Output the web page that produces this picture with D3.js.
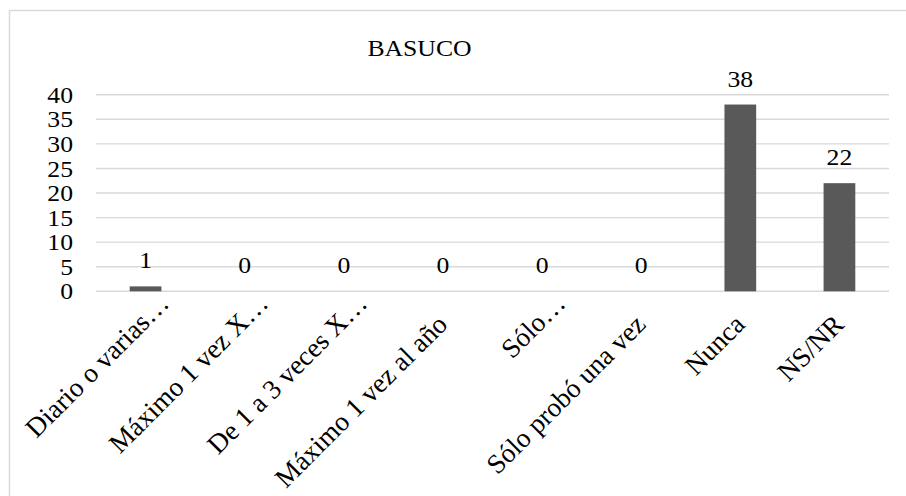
<!DOCTYPE html>
<html>
<head>
<meta charset="utf-8">
<script src="https://cdn.jsdelivr.net/npm/d3@7"></script>
<style>
  html, body { margin: 0; padding: 0; background: #fff; }
  svg { display: block; }
</style>
</head>
<body>
<div id="chart"></div>
<script>
const title = "BASUCO";
const categories = ["Diario o varias…", "Máximo 1 vez X…", "De 1 a 3 veces X…", "Máximo 1 vez al año", "Sólo…", "Sólo probó una vez", "Nunca", "NS/NR"];
const values = [1, 0, 0, 0, 0, 0, 38, 22];
const yTicks = [0, 5, 10, 15, 20, 25, 30, 35, 40];

const W = 906, H = 496;
const stretch = 1.07;
const fs = 24;
const fsX = 27.3;
const FONT = "'Liberation Serif', 'Times New Roman', Times, 'DejaVu Serif', serif";

const svg = d3.select("#chart").append("svg").attr("width", W).attr("height", H)
  .attr("font-family", FONT).style("font-family", FONT);

// chart border
svg.append("rect").attr("x", 9.5).attr("y", 10.5).attr("width", 1000).attr("height", 1000)
  .attr("fill", "none").attr("stroke", "#d9d9d9").attr("stroke-width", 1.5);

const x = d3.scaleBand().domain(categories).range([96, 889]).paddingInner(0.68).paddingOuter(0.34);
const y = d3.scaleLinear().domain([0, 40]).range([291.3, 94.7]);

// gridlines
svg.append("g").selectAll("line").data(yTicks).join("line")
  .attr("x1", 96).attr("x2", 889)
  .attr("y1", d => y(d)).attr("y2", d => y(d))
  .attr("stroke", "#d9d9d9").attr("stroke-width", 1.4);

// y tick labels
svg.append("g").selectAll("text").data(yTicks).join("text")
  .attr("transform", d => `translate(73,${y(d)}) scale(${stretch},1)`)
  .attr("dy", "0.34em")
  .attr("text-anchor", "end")
  .attr("font-size", fs)
  .text(d => d);

// bars
const data = categories.map((c, i) => ({ c, v: values[i] }));
svg.append("g").selectAll("rect").data(data.filter(d => d.v > 0)).join("rect")
  .attr("x", d => x(d.c)).attr("width", x.bandwidth())
  .attr("y", d => y(d.v)).attr("height", d => y(0) - y(d.v))
  .attr("fill", "#595959");

// data labels
svg.append("g").selectAll("text").data(data).join("text")
  .attr("transform", d => `translate(${x(d.c) + x.bandwidth() / 2},${y(d.v) - 18}) scale(${stretch},1)`)
  .attr("text-anchor", "middle")
  .attr("font-size", fs)
  .text(d => d.v);

// x labels
svg.append("g").selectAll("text").data(categories).join("text")
  .attr("transform", d => {
    const cx = x(d) + x.bandwidth() / 2;
    const trunc = d.endsWith("…");
    const px = trunc ? cx + 25 : cx + 6;
    const py = trunc ? 305 : 326;
    return `translate(${px},${py}) rotate(-45)`;
  })
  .attr("text-anchor", "end")
  .attr("font-size", fsX)
  .text(d => d);

// title
svg.append("text")
  .attr("transform", `translate(419.5,56) scale(${stretch},1)`)
  .attr("text-anchor", "middle")
  .attr("font-size", fs)
  .text(title);
</script>
</body>
</html>
